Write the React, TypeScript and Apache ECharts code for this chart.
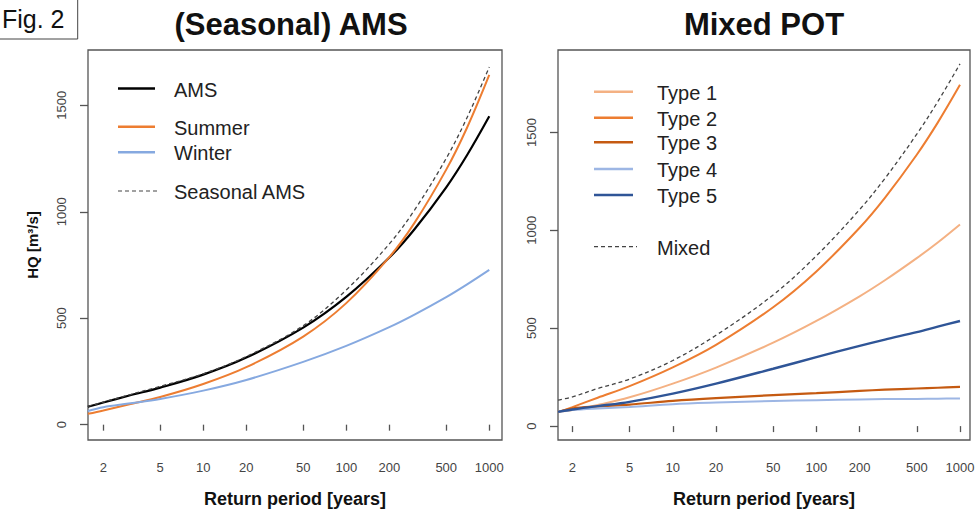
import React, { useEffect, useRef } from "react";
import * as echarts from "echarts";

// ---------- data ----------
const X_TICKS = [2, 5, 10, 20, 50, 100, 200, 500, 1000];
const Y_TICKS = [0, 500, 1000, 1500];

// Left panel: (Seasonal) AMS
const T_LEFT = [1.56, 2, 3, 5, 10, 20, 50, 100, 200, 300, 500, 700, 1000];
const AMS = [84, 104, 136, 174, 235, 315, 456, 600, 785, 918, 1115, 1267, 1449];
const SUMMER = [51, 67, 95, 130, 191, 270, 414, 571, 787, 948, 1198, 1396, 1643];
const WINTER = [64, 82, 99, 121, 160, 210, 295, 370, 458, 517, 599, 659, 727];
const SEASONAL_AMS = [86, 106, 139, 180, 239, 320, 465, 633, 849, 1008, 1251, 1443, 1680];

// Right panel: Mixed POT
const T_RIGHT = [1.59, 2, 3, 5, 10, 20, 50, 100, 200, 300, 500, 700, 1000];
const TYPE1 = [73, 82, 108, 147, 217, 299, 426, 537, 663, 745, 858, 938, 1030];
const TYPE2 = [70, 97, 145, 204, 300, 415, 607, 790, 1013, 1166, 1386, 1550, 1743];
const TYPE3 = [73, 90, 100, 110, 129, 143, 158, 168, 180, 186, 192, 196, 200];
const TYPE4 = [73, 82, 90, 98, 112, 120, 128, 132, 136, 138, 139, 140, 141];
const TYPE5 = [73, 85, 102, 124, 166, 217, 293, 352, 410, 442, 480, 508, 537];
const MIXED = [133, 149, 192, 240, 335, 464, 670, 870, 1106, 1265, 1491, 1657, 1850];

const LEFT_NAMES = ["AMS", "Summer", "Winter", "Seasonal AMS"];
const RIGHT_NAMES = ["Type 1", "Type 2", "Type 3", "Type 4", "Type 5", "Mixed"];

const FONT = "'Liberation Sans', Arial, Helvetica, sans-serif";

const LEFT_COLORS = ["#000000", "#ED7D31", "#86A9E0", "#444444"];
const RIGHT_COLORS = ["#F4B183", "#ED7D31", "#C55A11", "#9DB6E4", "#2F5597", "#444444"];

function pts(T: number[], v: number[]) {
  return T.map((t, i) => [Math.log10(t), v[i]]);
}

function xAxis(gridIndex: number, min: number, max: number) {
  const logs = X_TICKS.map((t) => Math.log10(t));
  return {
    type: "value",
    gridIndex,
    min,
    max,
    axisLine: { show: false },
    splitLine: { show: false },
    axisTick: { show: true, length: 6, customValues: logs, lineStyle: { color: "#555", width: 1.3 } },
    axisLabel: {
      customValues: logs,
      formatter: (v: number) => String(Math.round(Math.pow(10, v))),
      margin: 21,
      fontSize: 13,
      color: "#444",
      fontFamily: FONT,
    },
    name: "Return period [years]",
    nameLocation: "middle",
    nameGap: 50,
    nameTextStyle: { fontSize: 18, fontWeight: "bold", color: "#111", fontFamily: FONT },
  };
}

function yAxis(gridIndex: number, min: number, max: number, name: string) {
  return {
    type: "value",
    gridIndex,
    min,
    max,
    axisLine: { show: false },
    splitLine: { show: false },
    axisTick: { show: true, length: 8, customValues: Y_TICKS, lineStyle: { color: "#555", width: 1.3 } },
    axisLabel: {
      customValues: Y_TICKS,
      formatter: (v: number) => String(v),
      rotate: 90,
      margin: 20,
      fontSize: 13,
      color: "#444",
      fontFamily: FONT,
    },
    name,
    nameLocation: "middle",
    nameRotate: 90,
    nameGap: 48,
    nameTextStyle: { fontSize: 15, fontWeight: "bold", color: "#111", fontFamily: FONT },
  };
}

function line(name: string, idx: number, data: number[][], color: string, width: number, dashed = false) {
  return {
    type: "line",
    name,
    xAxisIndex: idx,
    yAxisIndex: idx,
    data,
    showSymbol: false,
    symbol: "none",
    smooth: 0.35,
    lineStyle: { color, width, type: dashed ? [4, 3] : "solid" },
    z: dashed ? 5 : 3,
  };
}

function legendItems(
  names: string[],
  colors: string[],
  ys: number[],
  x1: number,
  x2: number,
  tx: number,
  dashedIdx: number
) {
  const els: any[] = [];
  names.forEach((n, i) => {
    const dashed = i === dashedIdx;
    els.push({
      type: "line",
      shape: { x1, y1: ys[i], x2: dashed ? x2 + 4 : x2, y2: ys[i] },
      style: { stroke: colors[i], lineWidth: dashed ? 1.2 : 2.5, lineDash: dashed ? [4, 3] : null },
    });
    els.push({
      type: "text",
      x: tx,
      y: ys[i] + 1,
      style: { text: n, fontSize: 20, fontFamily: FONT, fill: "#222", verticalAlign: "middle", textAlign: "left" },
    });
  });
  return els;
}

export default function App() {
  const ref = useRef<HTMLDivElement>(null);
  useEffect(() => {
    if (!ref.current) return;
    const chart = echarts.init(ref.current, null, { renderer: "svg" });
    const option: any = {
      animation: false,
      backgroundColor: "#ffffff",
      textStyle: { fontFamily: FONT },
      grid: [
        { left: 88, top: 50, width: 414, height: 393, show: true, borderColor: "#555", borderWidth: 1.3, backgroundColor: "transparent" },
        { left: 558, top: 50, width: 412, height: 394, show: true, borderColor: "#555", borderWidth: 1.3, backgroundColor: "transparent" },
      ],
      xAxis: [xAxis(0, 0.194, 3.089), xAxis(1, 0.2007, 3.0697)],
      yAxis: [yAxis(0, -72, 1760, "HQ [m³/s]"), yAxis(1, -71, 1921, "")],
      series: [
        line(LEFT_NAMES[0], 0, pts(T_LEFT, AMS), LEFT_COLORS[0], 2.2),
        line(LEFT_NAMES[1], 0, pts(T_LEFT, SUMMER), LEFT_COLORS[1], 2),
        line(LEFT_NAMES[2], 0, pts(T_LEFT, WINTER), LEFT_COLORS[2], 2),
        line(LEFT_NAMES[3], 0, pts(T_LEFT, SEASONAL_AMS), LEFT_COLORS[3], 1.3, true),
        line(RIGHT_NAMES[0], 1, pts(T_RIGHT, TYPE1), RIGHT_COLORS[0], 2),
        line(RIGHT_NAMES[1], 1, pts(T_RIGHT, TYPE2), RIGHT_COLORS[1], 2),
        line(RIGHT_NAMES[2], 1, pts(T_RIGHT, TYPE3), RIGHT_COLORS[2], 2.2),
        line(RIGHT_NAMES[3], 1, pts(T_RIGHT, TYPE4), RIGHT_COLORS[3], 2),
        line(RIGHT_NAMES[4], 1, pts(T_RIGHT, TYPE5), RIGHT_COLORS[4], 2.4),
        line(RIGHT_NAMES[5], 1, pts(T_RIGHT, MIXED), RIGHT_COLORS[5], 1.3, true),
      ],
      graphic: [
        {
          type: "rect",
          shape: { x: -2, y: -2, width: 79.7, height: 41 },
          style: { fill: "#fff", stroke: "#444", lineWidth: 1 },
        },
        {
          type: "text",
          x: 2,
          y: 19,
          style: { text: "Fig. 2", fontSize: 25, fontFamily: FONT, fill: "#111", textAlign: "left", verticalAlign: "middle" },
        },
        {
          type: "text",
          x: 291,
          y: 24,
          style: { text: "(Seasonal) AMS", fontSize: 31, fontWeight: "bold", fontFamily: FONT, fill: "#111", textAlign: "center", verticalAlign: "middle" },
        },
        {
          type: "text",
          x: 764,
          y: 24,
          style: { text: "Mixed POT", fontSize: 31, fontWeight: "bold", fontFamily: FONT, fill: "#111", textAlign: "center", verticalAlign: "middle" },
        },
        ...legendItems(LEFT_NAMES, LEFT_COLORS, [88.5, 126.7, 152.3, 191], 118, 155, 174, 3),
        ...legendItems(RIGHT_NAMES, RIGHT_COLORS, [91.7, 117.7, 142.3, 169, 195, 246.7], 594, 633, 657, 5),
      ],
    };
    chart.setOption(option);
    return () => chart.dispose();
  }, []);
  return <div ref={ref} style={{ position: "absolute", left: 0, top: 0, width: 979, height: 513 }} />;
}
